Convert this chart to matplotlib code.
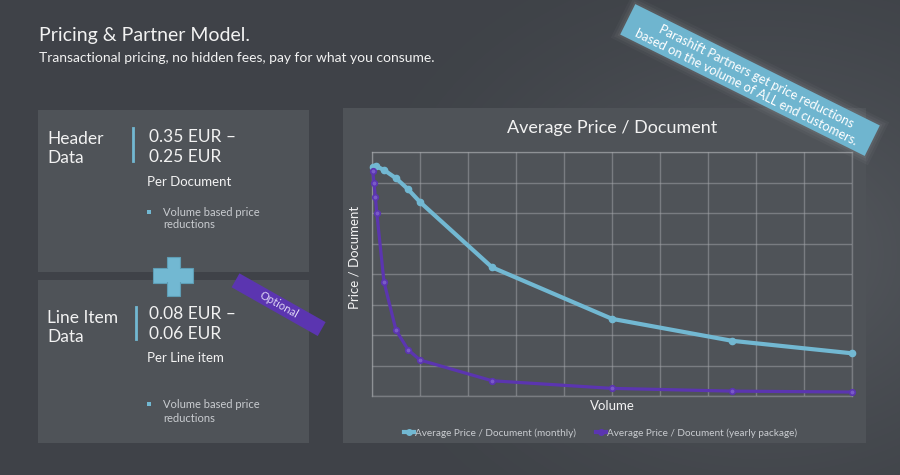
import numpy as np
import matplotlib
matplotlib.use("Agg")
import matplotlib.pyplot as plt
from matplotlib.patches import Rectangle
from matplotlib.transforms import Affine2D
from matplotlib.lines import Line2D

# ---------------- data ----------------
volume_monthly = [0.02, 0.08, 0.25, 0.5, 0.75, 1.0, 2.5, 5.0, 7.5, 10.0]
price_monthly = [7.52, 7.54, 7.41, 7.14, 6.78, 6.36, 4.22, 2.53, 1.81, 1.40]
volume_yearly = [0.015, 0.04, 0.07, 0.1, 0.25, 0.5, 0.75, 1.0, 2.5, 5.0, 7.5, 10.0]
price_yearly = [7.39, 7.0, 6.51, 6.0, 3.74, 2.16, 1.52, 1.18, 0.50, 0.25, 0.16, 0.13]
series_labels = ["Average Price / Document (monthly)",
                 "Average Price / Document (yearly package)"]

FONT = ["Lato", "DejaVu Sans"]
plt.rcParams["font.family"] = FONT

BG = "#464a50"
PANEL = "#4f5358"
BLUE = "#72b8d2"
PURPLE = "#5b35b0"
WHITE = "#f2f2f2"
GRAY_TXT = "#c9ccd0"

fig = plt.figure(figsize=(9, 4.75), dpi=100)
fig.patch.set_facecolor(BG)

# decoration axes in pixel coords (y up)
deco = fig.add_axes([0, 0, 1, 1])
deco.set_xlim(0, 900)
deco.set_ylim(0, 475)
deco.axis("off")
H = 475

# soft lighter glow to the right
yy, xx = np.mgrid[0:475, 0:900]
d = np.sqrt(((xx - 760) / 420.0) ** 2 + ((yy - 220) / 330.0) ** 2)
glow = np.clip(1 - d, 0, 1) ** 1.5
deco.imshow(glow, extent=[0, 900, 0, 475], origin="lower", cmap="gray",
            alpha=0.10, zorder=0, aspect="auto", vmin=0, vmax=1)

def rect(x0, y0s, x1, y1s, color, z=1, **kw):
    deco.add_patch(Rectangle((x0, H - y1s), x1 - x0, y1s - y0s,
                             facecolor=color, edgecolor=kw.pop("ec", "none"),
                             zorder=z, **kw))

# panels
rect(38, 110, 309, 272, PANEL)
rect(38, 280, 309, 443, PANEL)
rect(343, 108, 866, 443, PANEL)

# headings
deco.text(39, H - 35, "Pricing & Partner Model.", color=WHITE, fontsize=14,
          va="center", ha="left", zorder=5)
deco.text(39, H - 58, "Transactional pricing, no hidden fees, pay for what you consume.",
          color=WHITE, fontsize=10, va="center", ha="left", zorder=5)

# header data block
deco.text(47, H - 139, "Header", color=WHITE, fontsize=12.5, va="center", zorder=5)
deco.text(47, H - 158, "Data", color=WHITE, fontsize=12.5, va="center", zorder=5)
deco.plot([133, 133], [H - 128, H - 161], color=BLUE, lw=2, zorder=5)
deco.text(149, H - 137, "0.35 EUR \u2013", color=WHITE, fontsize=12.5, va="center", zorder=5)
deco.text(149, H - 157, "0.25 EUR", color=WHITE, fontsize=12.5, va="center", zorder=5)
deco.text(147, H - 182, "Per Document", color=WHITE, fontsize=9.5, va="center", zorder=5)
rect(146.5, 210, 150.5, 214, BLUE, z=5)
deco.text(163, H - 212, "Volume based price", color=GRAY_TXT, fontsize=8, va="center", zorder=5)
deco.text(163, H - 225, "reductions", color=GRAY_TXT, fontsize=8, va="center", zorder=5)

# line item block
deco.text(47, H - 318, "Line Item", color=WHITE, fontsize=12.5, va="center", zorder=5)
deco.text(47, H - 337, "Data", color=WHITE, fontsize=12.5, va="center", zorder=5)
deco.plot([136, 136], [H - 307, H - 339], color=BLUE, lw=2, zorder=5)
deco.text(149, H - 314, "0.08 EUR \u2013", color=WHITE, fontsize=12.5, va="center", zorder=5)
deco.text(149, H - 334, "0.06 EUR", color=WHITE, fontsize=12.5, va="center", zorder=5)
deco.text(147, H - 358, "Per Line item", color=WHITE, fontsize=9.5, va="center", zorder=5)
rect(146.5, 402, 150.5, 406, BLUE, z=5)
deco.text(163, H - 405, "Volume based price", color=GRAY_TXT, fontsize=8, va="center", zorder=5)
deco.text(163, H - 418, "reductions", color=GRAY_TXT, fontsize=8, va="center", zorder=5)

# plus sign
rect(153, 268, 193, 283, BLUE, z=6, ec="#5e9db5", lw=0.8)
rect(167, 257, 180, 296, BLUE, z=6, ec="#5e9db5", lw=0.8)
rect(153.6, 268.6, 192.4, 282.4, BLUE, z=7)

def banner(cx, cy_s, w, h, angle, color, z=8):
    cy = H - cy_s
    r = Rectangle((cx - w / 2, cy - h / 2), w, h, facecolor=color, edgecolor="none",
                  zorder=z)
    r.set_transform(Affine2D().rotate_deg_around(cx, cy, angle) + deco.transData)
    deco.add_patch(r)
    return cx, cy

# Optional banner
cx, cy = banner(278.6, 304.7, 99, 16, -29.5, PURPLE)
deco.text(cx, cy, "Optional", color="#ddd5f5", fontsize=8, rotation=-29.5,
          rotation_mode="anchor", ha="center", va="center", zorder=9)

# partner banner with glow
ANG = -26.4
for i, a in enumerate([0.03, 0.04, 0.05]):
    g = 14 - 5 * i
    banner(750, 80, 273 + g, 34 + g, ANG, (1, 1, 1, a), z=7)
cx, cy = banner(750, 80, 273, 34, ANG, "#6fb5cf")
ar = np.deg2rad(ANG)
along = np.array([np.cos(ar), np.sin(ar)])
perp = np.array([-np.sin(ar), np.cos(ar)])
for txt, off_p, off_a in [("Parashift Partners get price reductions", 7.0, 4.0),
                          ("based on the volume of ALL end customers.", -7.0, 0.0)]:
    p = np.array([cx, cy]) + off_p * perp + off_a * along
    deco.text(p[0], p[1], txt, color="white", fontsize=9.3, rotation=ANG,
              rotation_mode="anchor", ha="center", va="center_baseline", zorder=9)

# ---------------- chart ----------------
ax = fig.add_axes([372 / 900, 1 - 396 / 475, 480 / 900, 244 / 475])
ax.set_facecolor("none")
ax.set_xlim(0, 10)
ax.set_ylim(0, 8)
ax.set_xticks(np.arange(0, 11, 1))
ax.set_yticks(np.arange(0, 9, 1))
ax.tick_params(length=0, labelbottom=False, labelleft=False)
ax.grid(True, color="#a3a6aa", alpha=0.5, lw=1)
for s in ax.spines.values():
    s.set_color("#a3a6aa")
    s.set_alpha(0.5)
    s.set_linewidth(1)

l1, = ax.plot(volume_monthly, price_monthly, color=BLUE, lw=3, marker="o",
              ms=4.5, mfc=BLUE, mec=BLUE, zorder=4, clip_on=False)
l2, = ax.plot(volume_yearly, price_yearly, color=PURPLE, lw=2.3, marker="o",
              ms=4, mfc="#7a5ac8", mec=PURPLE, mew=1.2, zorder=5, clip_on=False)

ax.set_title("Average Price / Document", color=WHITE, fontsize=13, pad=14)
ax.set_xlabel("Volume", color=WHITE, fontsize=9.5, labelpad=3)
ax.set_ylabel("Price / Document", color=WHITE, fontsize=9.5)
ax.yaxis.set_label_coords(-0.024, 0.57)

h1 = Line2D([], [], color=BLUE, lw=3, marker="o", ms=4)
h2 = Line2D([], [], color=PURPLE, lw=3, marker="o", ms=4)
leg = fig.legend([h1, h2], series_labels, loc="center",
                 bbox_to_anchor=(601 / 900, 1 - 433 / 475), ncol=2, frameon=False,
                 fontsize=7.2, handlelength=1.0, handletextpad=0.1,
                 columnspacing=2.0, labelcolor=GRAY_TXT)

fig.savefig("out.png", dpi=100, facecolor=BG)
